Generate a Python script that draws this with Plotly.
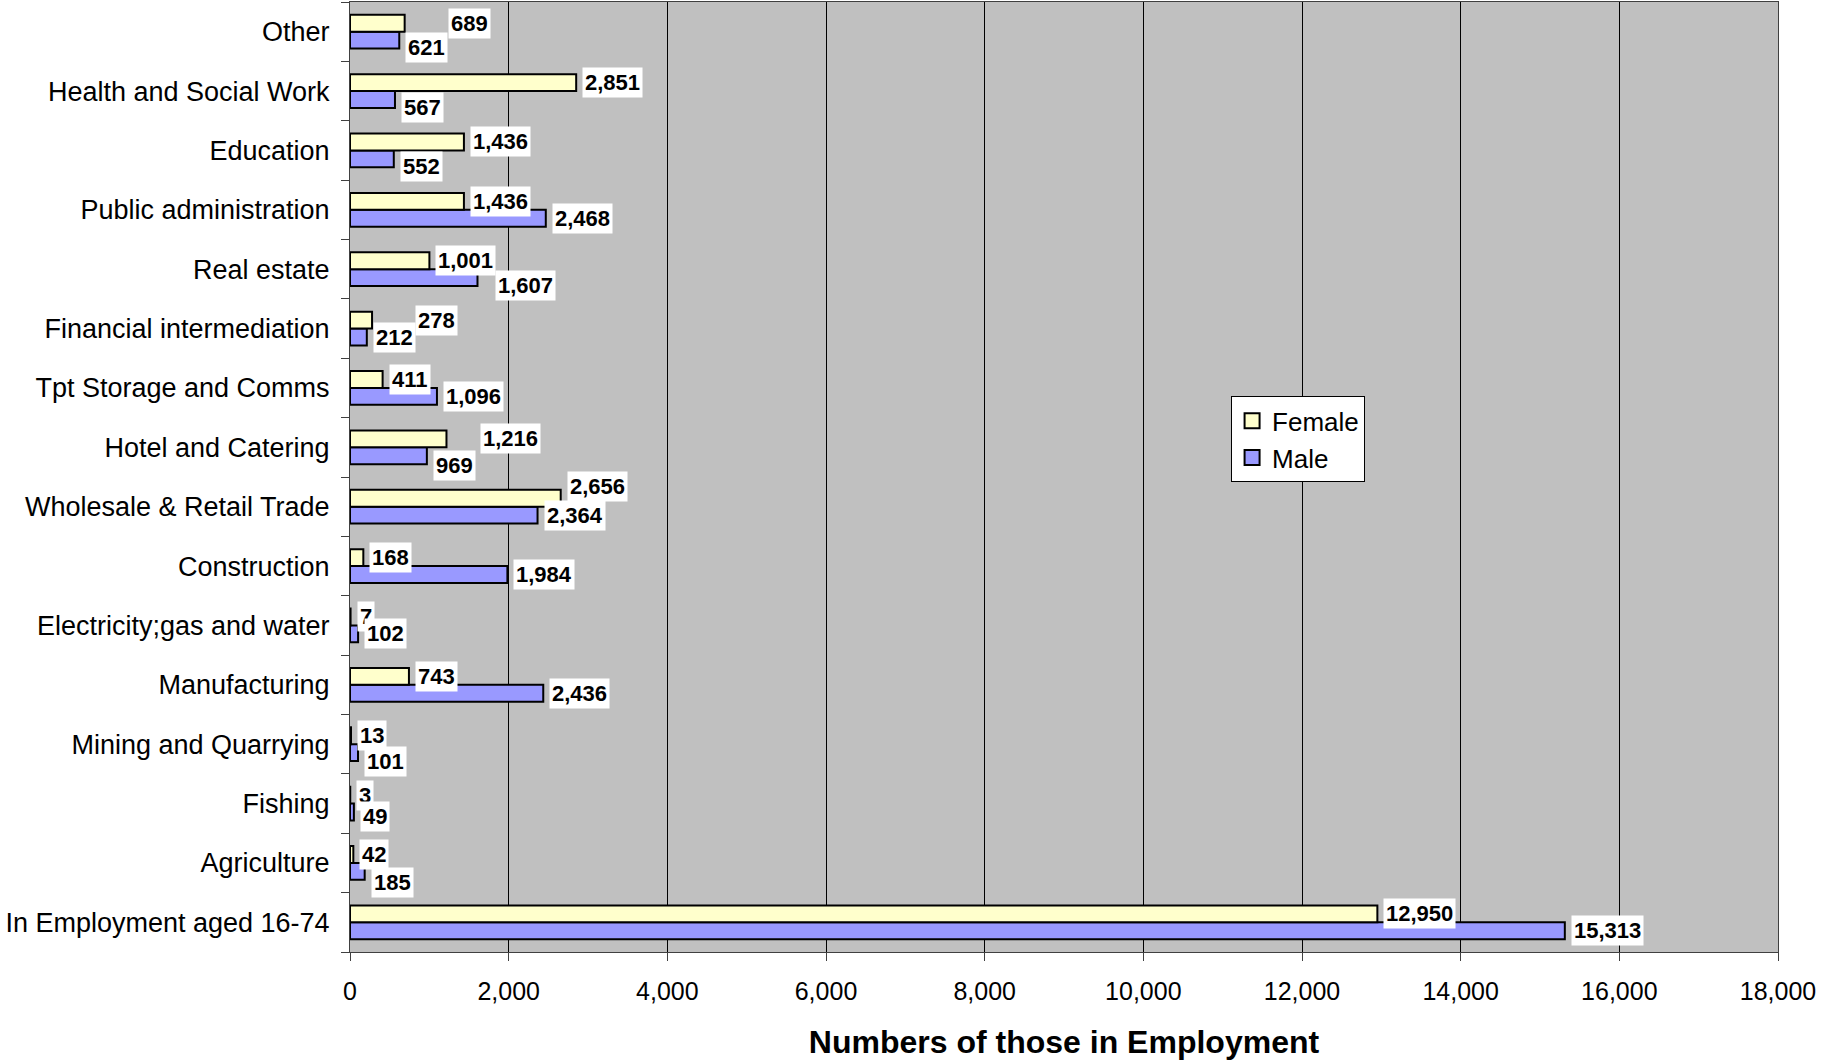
import plotly.graph_objects as go

# ---- data (top to bottom as shown) ----
categories = [
    "Other", "Health and Social Work", "Education", "Public administration",
    "Real estate", "Financial intermediation", "Tpt Storage and Comms",
    "Hotel and Catering", "Wholesale & Retail Trade", "Construction",
    "Electricity;gas and water", "Manufacturing", "Mining and Quarrying",
    "Fishing", "Agriculture", "In Employment aged 16-74",
]
female = [689, 2851, 1436, 1436, 1001, 278, 411, 1216, 2656, 168, 7, 743, 13, 3, 42, 12950]
male = [621, 567, 552, 2468, 1607, 212, 1096, 969, 2364, 1984, 102, 2436, 101, 49, 185, 15313]
x_ticks = [0, 2000, 4000, 6000, 8000, 10000, 12000, 14000, 16000, 18000]

# ---- label nudges in pixels (dx right, dy down), layout only ----
label_nudge = {
    ("Other", "F"): (37, 0), ("Other", "M"): (0, 7),
    ("Health and Social Work", "M"): (0, 8),
    ("Education", "M"): (0, 8),
    ("Real estate", "M"): (12, 8),
    ("Financial intermediation", "F"): (37, 0),
    ("Hotel and Catering", "F"): (28, 0), ("Hotel and Catering", "M"): (0, 10),
    ("Wholesale & Retail Trade", "F"): (0, -12),
    ("Mining and Quarrying", "M"): (0, 9),
    ("Fishing", "M"): (0, 4),
    ("Agriculture", "M"): (0, 11),
}

cats_bottom_up = categories[::-1]
female_bu = female[::-1]
male_bu = male[::-1]

FONT = "Arial, Liberation Sans, sans-serif"
FEMALE_C = "#FFFFCC"
MALE_C = "#9999FF"

fig = go.Figure()
fig.add_trace(go.Bar(
    y=cats_bottom_up, x=male_bu, orientation="h", name="Male", showlegend=False,
    marker=dict(color=MALE_C, line=dict(color="black", width=2)),
))
fig.add_trace(go.Bar(
    y=cats_bottom_up, x=female_bu, orientation="h", name="Female", showlegend=False,
    marker=dict(color=FEMALE_C, line=dict(color="black", width=2)),
))
# legend entries with larger square keys
for name, col in (("Female", FEMALE_C), ("Male", MALE_C)):
    fig.add_trace(go.Scatter(
        x=[None], y=[None], mode="markers", name=name,
        marker=dict(symbol="square", size=15, color=col, line=dict(color="black", width=2)),
    ))

bar_off = 8.5
annotations = []
for cat, f, m in zip(categories, female, male):
    for val, key, off in ((f, "F", bar_off), (m, "M", -bar_off)):
        dx, dy = label_nudge.get((cat, key), (0, 0))
        annotations.append(dict(
            x=val, y=cat, xref="x", yref="y", xanchor="left", yanchor="middle",
            xshift=6 + dx, yshift=off - dy, showarrow=False,
            text=f"<b>{val:,}</b>", bgcolor="white", borderpad=2,
            font=dict(family=FONT, size=22, color="black"),
        ))

fig.update_layout(
    width=1821, height=1060,
    margin=dict(l=350, r=43, t=2, b=108),
    paper_bgcolor="white", plot_bgcolor="#C0C0C0",
    barmode="group", bargap=0.43, bargroupgap=0,
    font=dict(family=FONT, size=26, color="black"),
    showlegend=True,
    legend=dict(
        x=0.617, y=0.585, xanchor="left", yanchor="top",
        bgcolor="white", bordercolor="black", borderwidth=1,
        font=dict(size=26, family=FONT),
        itemwidth=30, tracegroupgap=0,
    ),
    annotations=annotations,
)
fig.update_xaxes(
    range=[0, 18000], tickvals=x_ticks, tickformat=",",
    showgrid=True, gridcolor="black", gridwidth=1,
    ticks="outside", ticklen=8, tickcolor="#404040",
    showline=True, linecolor="#404040", linewidth=1, mirror=True,
    zeroline=False,
    tickfont=dict(size=25, family=FONT),
    ticklabelstandoff=9,
    title=dict(text="<b>Numbers of those in Employment</b>",
               font=dict(size=32, family=FONT), standoff=28),
)
fig.update_yaxes(
    categoryorder="array", categoryarray=cats_bottom_up,
    tickson="boundaries", ticks="outside", ticklen=8, tickcolor="#404040",
    showline=True, linecolor="#404040", linewidth=1, mirror=True,
    showgrid=False,
    tickfont=dict(size=27, family=FONT),
    ticklabelstandoff=14,
)

fig.write_html("out.html", post_script="document.body.style.margin='0';",
               config={"displayModeBar": False})
